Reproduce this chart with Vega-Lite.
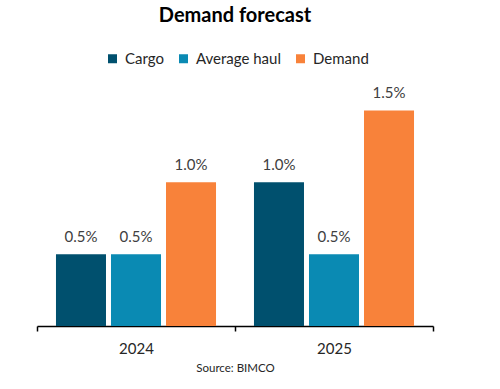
{
  "$schema": "https://vega.github.io/schema/vega-lite/v6.json",
  "autosize": "none",
  "width": 396,
  "height": 230,
  "padding": {"left": 37, "top": 96, "right": 67, "bottom": 63},
  "background": "white",
  "title": {"text": "Demand forecast", "font": "Lato", "fontSize": 20, "fontWeight": "bold", "color": "#000000", "anchor": "middle", "offset": 25},
  "config": {"view": {"stroke": null}, "font": "Lato"},
  "data": {"values": [
    {"year": "2024", "series": "Cargo", "value": 0.005},
    {"year": "2024", "series": "Average haul", "value": 0.005},
    {"year": "2024", "series": "Demand", "value": 0.010},
    {"year": "2025", "series": "Cargo", "value": 0.010},
    {"year": "2025", "series": "Average haul", "value": 0.005},
    {"year": "2025", "series": "Demand", "value": 0.015}
  ]},
  "encoding": {
    "x": {"field": "year", "type": "nominal", "scale": {"paddingInner": 0, "paddingOuter": 0},
      "axis": {"title": "Source: BIMCO", "titleFont": "Lato", "titleFontSize": 11.5, "titleFontWeight": "normal", "titleColor": "#262626", "titlePadding": 6,
        "labelAngle": 0, "labelFont": "Lato", "labelFontSize": 15, "labelColor": "#262626", "labelPadding": 10,
        "domainColor": "#000000", "domainWidth": 1.5, "tickColor": "#000000", "tickWidth": 1.5, "tickSize": 5, "tickBand": "extent"}},
    "xOffset": {"field": "series", "type": "nominal", "sort": ["Cargo", "Average haul", "Demand"], "scale": {"paddingInner": 0.0909, "paddingOuter": 0.345}},
    "y": {"field": "value", "type": "quantitative", "scale": {"domain": [0, 0.016]}, "axis": null}
  },
  "layer": [
    {"mark": {"type": "bar"},
     "encoding": {"color": {"field": "series", "type": "nominal", "sort": ["Cargo", "Average haul", "Demand"],
       "scale": {"domain": ["Cargo", "Average haul", "Demand"], "range": ["#00506e", "#0a8ab3", "#f8823a"]},
       "legend": {"title": null, "orient": "none", "direction": "horizontal", "legendX": 68, "legendY": -45,
         "symbolType": "square", "symbolSize": 81, "symbolStrokeWidth": 0, "labelFont": "Lato", "labelFontSize": 15, "labelColor": "#262626", "labelOffset": 5, "columnPadding": 12}}}},
    {"mark": {"type": "text", "baseline": "alphabetic", "dy": -12, "font": "Lato", "fontSize": 15, "color": "#404040"},
     "encoding": {"text": {"field": "value", "type": "quantitative", "format": ".1%"}}}
  ]
}
